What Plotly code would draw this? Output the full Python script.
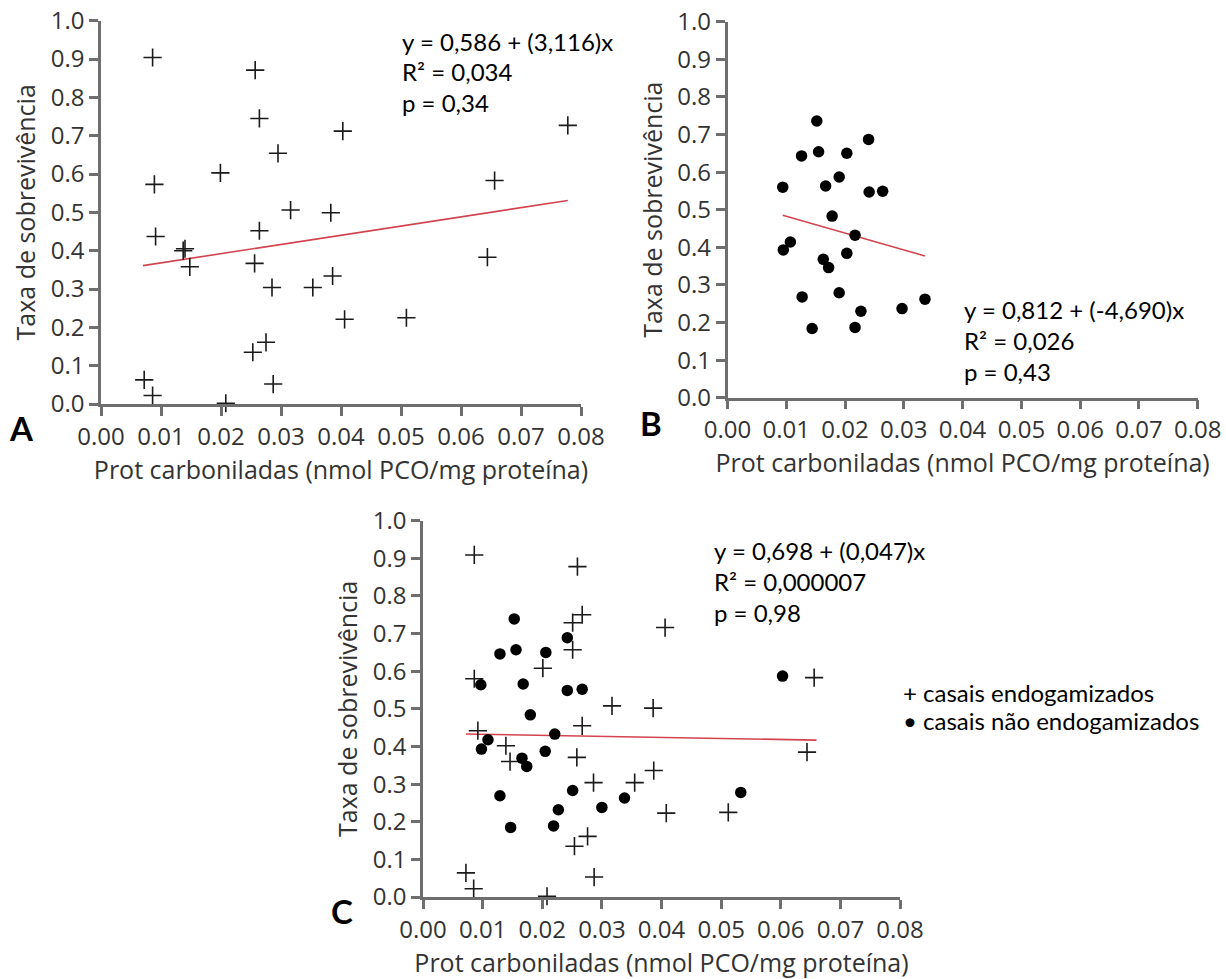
import plotly.graph_objects as go

W, H = 1226, 979

# ---------------- data ----------------
x_ticks = [0.00, 0.01, 0.02, 0.03, 0.04, 0.05, 0.06, 0.07, 0.08]
y_ticks = [0.0, 0.1, 0.2, 0.3, 0.4, 0.5, 0.6, 0.7, 0.8, 0.9, 1.0]

# Panel A: casais endogamizados (+)
a_x = [0.0086, 0.0257, 0.0264, 0.0403, 0.0295, 0.0199, 0.0089, 0.0316, 0.0383, 0.0264,
       0.0091, 0.0137, 0.0140, 0.0148, 0.0256, 0.0285, 0.0353, 0.0386, 0.0406, 0.0509,
       0.0253, 0.0275, 0.0287, 0.0072, 0.0086, 0.0208, 0.0644, 0.0656, 0.0778]
a_y = [0.904, 0.871, 0.745, 0.712, 0.654, 0.603, 0.573, 0.506, 0.499, 0.452,
       0.437, 0.400, 0.405, 0.358, 0.367, 0.304, 0.304, 0.334, 0.221, 0.225,
       0.135, 0.161, 0.052, 0.063, 0.022, 0.002, 0.383, 0.583, 0.727]
a_fit_x = [0.0070, 0.0778]
a_fit_y = [0.361, 0.531]

# Panel B: casais não endogamizados (•)
b_x = [0.0094, 0.0095, 0.0107, 0.0126, 0.0127, 0.0144, 0.0152, 0.0155, 0.0167, 0.0163,
       0.0172, 0.0178, 0.0190, 0.0190, 0.0203, 0.0203, 0.0217, 0.0217, 0.0227, 0.0240,
       0.0241, 0.0264, 0.0297, 0.0336]
b_y = [0.560, 0.393, 0.414, 0.643, 0.268, 0.184, 0.736, 0.654, 0.563, 0.368,
       0.346, 0.483, 0.587, 0.279, 0.650, 0.384, 0.432, 0.187, 0.230, 0.687,
       0.547, 0.549, 0.237, 0.262]
b_fit_x = [0.0094, 0.0336]
b_fit_y = [0.485, 0.377]

# Panel C: both groups
c_plus_x = [0.0086, 0.0259, 0.0267, 0.0251, 0.0406, 0.0251, 0.0201, 0.0086, 0.0317, 0.0386,
            0.0267, 0.0092, 0.0139, 0.0146, 0.0258, 0.0286, 0.0355, 0.0387, 0.0408, 0.0512,
            0.0254, 0.0276, 0.0287, 0.0072, 0.0085, 0.0208, 0.0644, 0.0656]
c_plus_y = [0.909, 0.878, 0.750, 0.729, 0.716, 0.657, 0.608, 0.580, 0.508, 0.502,
            0.455, 0.442, 0.402, 0.360, 0.371, 0.304, 0.304, 0.336, 0.223, 0.225,
            0.135, 0.161, 0.053, 0.064, 0.022, 0.002, 0.385, 0.583]
c_dot_x = [0.0153, 0.0242, 0.0129, 0.0156, 0.0206, 0.0097, 0.0168, 0.0242, 0.0267, 0.0180,
           0.0221, 0.0109, 0.0098, 0.0205, 0.0166, 0.0174, 0.0129, 0.0251, 0.0338, 0.0300,
           0.0227, 0.0147, 0.0219, 0.0533, 0.0603]
c_dot_y = [0.739, 0.689, 0.646, 0.657, 0.650, 0.564, 0.566, 0.549, 0.552, 0.484,
           0.433, 0.418, 0.393, 0.387, 0.369, 0.347, 0.269, 0.283, 0.263, 0.238,
           0.232, 0.185, 0.189, 0.278, 0.587]
c_fit_x = [0.0072, 0.0660]
c_fit_y = [0.433, 0.417]

stats_a = ["y = 0,586 + (3,116)x", "R² = 0,034", "p = 0,34"]
stats_b = ["y = 0,812 + (-4,690)x", "R² = 0,026", "p = 0,43"]
stats_c = ["y = 0,698 + (0,047)x", "R² = 0,000007", "p = 0,98"]
legend_lines = ["+ casais endogamizados", "• casais não endogamizados"]
panel_letters = ["A", "B", "C"]

x_title = "Prot carboniladas (nmol PCO/mg proteína)"
y_title = "Taxa de sobrevivência"

# ---------------- styles ----------------
AX_COL = "#6e6e6e"
TXT_COL = "#333333"
FIT_COL = "#d2444f"
TICK_FONT = dict(family="Open Sans", size=24, color=TXT_COL)
TITLE_FONT = dict(family="Open Sans", size=25, color=TXT_COL)
NOTE_FONT = dict(family="Lato", size=24, color="#000000")

plus_marker = dict(symbol="cross-thin", size=13, line=dict(width=1.6, color="#1a1a1a"), color="#1a1a1a")
dot_marker = dict(symbol="circle", size=11.5, color="#000000", line=dict(width=0))


def px_x(px):
    return px / W


def px_y(py):
    return 1 - py / H


# plot areas in pixels: (left, right, top, bottom)
areas = {
    "": (101, 581, 20.7, 404),
    "2": (727.5, 1197.7, 21.7, 397.7),
    "3": (423, 900, 520.7, 897),
}

fig = go.Figure()


def add_scatter(xs, ys, marker, k):
    fig.add_trace(go.Scatter(x=xs, y=ys, mode="markers", marker=marker,
                             xaxis="x" + k, yaxis="y" + k, cliponaxis=False,
                             showlegend=False, hoverinfo="x+y"))


def add_fit(xs, ys, k):
    fig.add_trace(go.Scatter(x=xs, y=ys, mode="lines", line=dict(color=FIT_COL, width=1.6),
                             xaxis="x" + k, yaxis="y" + k, cliponaxis=False,
                             showlegend=False, hoverinfo="skip"))


add_fit(a_fit_x, a_fit_y, "")
add_scatter(a_x, a_y, plus_marker, "")
add_fit(b_fit_x, b_fit_y, "2")
add_scatter(b_x, b_y, dot_marker, "2")
add_fit(c_fit_x, c_fit_y, "3")
add_scatter(c_plus_x, c_plus_y, plus_marker, "3")
add_scatter(c_dot_x, c_dot_y, dot_marker, "3")

layout = dict(width=W, height=H, margin=dict(l=0, r=0, t=0, b=0, pad=0),
              paper_bgcolor="white", plot_bgcolor="white", showlegend=False)

for k, (l, r, t, b) in areas.items():
    layout["xaxis" + k] = dict(
        domain=[px_x(l), px_x(r)], anchor="y" + k, range=[0, 0.08], automargin=False,
        tickvals=x_ticks, ticktext=[f"{v:.2f}" for v in x_ticks],
        showline=True, linecolor=AX_COL, linewidth=2.5,
        ticks="outside", ticklen=9, tickwidth=2.5, tickcolor=AX_COL,
        showgrid=False, zeroline=False, tickfont=TICK_FONT,
        title=dict(text=x_title, font=TITLE_FONT, standoff=7))
    layout["yaxis" + k] = dict(
        domain=[px_y(b), px_y(t)], anchor="x" + k, range=[0, 1.0], automargin=False,
        tickvals=y_ticks, ticktext=[f"{v:.1f}" for v in y_ticks],
        showline=True, linecolor=AX_COL, linewidth=2.5,
        ticks="outside", ticklen=9, tickwidth=2.5, tickcolor=AX_COL,
        showgrid=False, zeroline=False, tickfont=TICK_FONT,
        title=dict(text=y_title, font=TITLE_FONT, standoff=8))

annotations = []


def add_lines(lines, x0, ys):
    for txt, yy in zip(lines, ys):
        annotations.append(dict(text=txt, x=px_x(x0), y=px_y(yy), xref="paper", yref="paper",
                                xanchor="left", yanchor="middle", showarrow=False, font=NOTE_FONT))


add_lines(stats_a, 400, [41, 71, 102])
add_lines(stats_b, 962, [309, 340, 371])
add_lines(stats_c, 712, [550, 581, 612])
add_lines(legend_lines, 901, [692, 720])

for letter, (lx, ly) in zip(panel_letters, [(22, 428), (651, 423), (342, 911)]):
    annotations.append(dict(text=f"<b>{letter}</b>", x=px_x(lx), y=px_y(ly), xref="paper", yref="paper",
                            xanchor="center", yanchor="middle", showarrow=False,
                            font=dict(family="Lato", size=33, color="#000000")))

layout["annotations"] = annotations
fig.update_layout(**layout)
fig.write_html("out.html")
